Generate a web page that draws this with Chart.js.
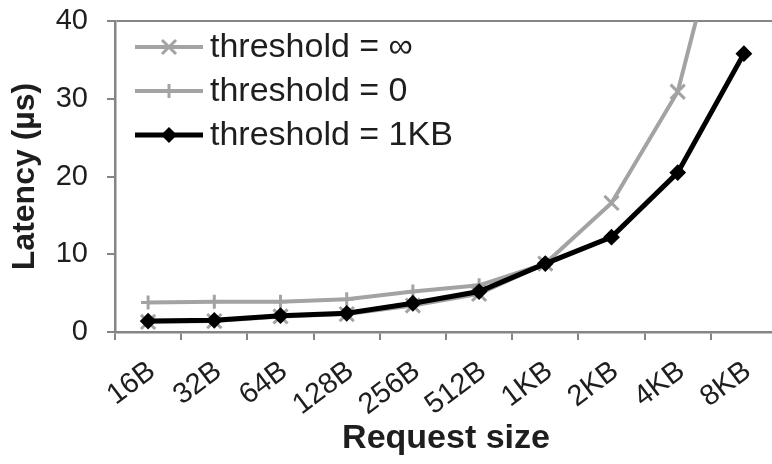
<!DOCTYPE html>
<html>
<head>
<meta charset="utf-8">
<script src="https://cdn.jsdelivr.net/npm/chart.js@4/dist/chart.umd.min.js"></script>
<style>
  html, body { margin: 0; padding: 0; background: #fff; width: 772px; height: 464px; overflow: hidden; }
  #wrap { width: 790px; height: 464px; }
</style>
</head>
<body>
<div id="wrap"><canvas id="latencyChart" width="790" height="464"></canvas></div>
<script>
// latency vs request size – three threshold settings

const requestSizes = ['16B', '32B', '64B', '128B', '256B', '512B', '1KB', '2KB', '4KB', '8KB'];
const latencyInf = [1.3, 1.4, 2.0, 2.3, 3.4, 4.9, 8.8, 16.6, 30.9, 64.0];
const latencyZero = [3.8, 3.9, 3.9, 4.2, 5.2, 6.0, 8.8, 12.2, 20.5, 35.8];
const latency1KB = [1.4, 1.5, 2.1, 2.4, 3.7, 5.2, 8.8, 12.2, 20.5, 35.8];
const yTicks = [0, 10, 20, 30, 40];

const gray = '#a3a3a3';
const axisGray = '#858585';
const textColor = '#1e1e1e';
const fontFamily = "'Liberation Sans', Arial, sans-serif";

// small canvases used as legend samples (line + marker)
const makeSample = (color, width, marker) => {
  const c = document.createElement('canvas');
  c.width = 68;
  c.height = 30;
  const ctx = c.getContext('2d');
  ctx.strokeStyle = color;
  ctx.fillStyle = color;
  ctx.lineWidth = width;
  ctx.beginPath();
  ctx.moveTo(0, 15);
  ctx.lineTo(68, 15);
  ctx.stroke();
  ctx.lineWidth = 3;
  ctx.beginPath();
  if (marker === 'crossRot') {
    ctx.moveTo(27, 8); ctx.lineTo(41, 22);
    ctx.moveTo(41, 8); ctx.lineTo(27, 22);
    ctx.stroke();
  } else if (marker === 'cross') {
    ctx.moveTo(34, 8); ctx.lineTo(34, 22);
    ctx.stroke();
  } else {
    ctx.moveTo(34, 7); ctx.lineTo(42, 15); ctx.lineTo(34, 23); ctx.lineTo(26, 15);
    ctx.closePath();
    ctx.fill();
  }
  return c;
};

const samples = [
  makeSample(gray, 4, 'crossRot'),
  makeSample(gray, 4, 'cross'),
  makeSample('#000', 5, 'rectRot')
];

// legend drawn inside the plot area, top-left
const insideLegend = {
  id: 'insideLegend',
  afterDatasetsDraw(chart) {
    const { ctx, chartArea } = chart;
    ctx.save();
    ctx.font = `34px ${fontFamily}`;
    ctx.fillStyle = textColor;
    ctx.textBaseline = 'middle';
    ctx.textAlign = 'left';
    chart.data.datasets.forEach((ds, i) => {
      const y = chartArea.top + 26 + i * 44;
      ctx.drawImage(samples[i], chartArea.left + 20, y - 15);
      ctx.fillText(ds.label, chartArea.left + 95, y + 1);
    });
    ctx.restore();
  }
};

new Chart(document.getElementById('latencyChart'), {
  type: 'line',
  data: {
    labels: requestSizes,
    datasets: [
      {
        label: 'threshold = ∞',
        data: latencyInf,
        borderColor: gray,
        borderWidth: 4,
        pointStyle: 'crossRot',
        pointRadius: 10,
        pointBorderWidth: 3,
        pointBorderColor: gray,
        pointBackgroundColor: gray,
        tension: 0,
        order: 2
      },
      {
        label: 'threshold = 0',
        data: latencyZero,
        borderColor: gray,
        borderWidth: 4,
        pointStyle: 'cross',
        pointRadius: 7,
        pointBorderWidth: 3,
        pointBorderColor: gray,
        pointBackgroundColor: gray,
        tension: 0,
        order: 1
      },
      {
        label: 'threshold = 1KB',
        data: latency1KB,
        borderColor: '#000',
        borderWidth: 5,
        pointStyle: 'rectRot',
        pointRadius: 7,
        pointBorderWidth: 2,
        pointBorderColor: '#000',
        pointBackgroundColor: '#000',
        tension: 0,
        order: 0
      }
    ]
  },
  plugins: [insideLegend],
  options: {
    responsive: false,
    animation: false,
    devicePixelRatio: 1,
    layout: { padding: { top: 21, right: 3, bottom: 0, left: 0 } },
    plugins: {
      tooltip: { enabled: false },
      legend: { display: false }
    },
    scales: {
      x: {
        offset: true,
        grid: {
          offset: true,
          drawOnChartArea: false,
          color: axisGray,
          lineWidth: 2,
          tickLength: 8
        },
        border: { color: axisGray, width: 2.5 },
        ticks: {
          autoSkip: false,
          minRotation: 37,
          maxRotation: 37,
          padding: 14,
          labelOffset: 4,
          color: textColor,
          font: { family: fontFamily, size: 29 }
        },
        title: {
          display: true,
          text: 'Request size',
          color: textColor,
          font: { family: fontFamily, size: 34, weight: 'bold' },
          padding: { top: 0, bottom: 5 }
        },
        afterFit: (scale) => {
          scale.height = 132;
          scale.paddingLeft = 0;
          scale.paddingRight = 0;
        }
      },
      y: {
        min: 0,
        max: 40,
        afterBuildTicks: (scale) => { scale.ticks = yTicks.map(v => ({ value: v })); },
        grid: {
          color: (ctx) => (ctx.tick && ctx.tick.value === 40 ? axisGray : 'rgba(0,0,0,0)'),
          tickColor: axisGray,
          lineWidth: 2,
          tickLength: 8
        },
        border: { color: axisGray, width: 2.5 },
        ticks: {
          padding: 19,
          color: textColor,
          font: { family: fontFamily, size: 29 }
        },
        title: {
          display: true,
          text: 'Latency (µs)',
          color: textColor,
          font: { family: fontFamily, size: 32, weight: 'bold' },
          padding: { top: 6, bottom: 0 }
        },
        afterFit: (scale) => {
          scale.width = 115;
          scale.paddingTop = 0;
          scale.paddingBottom = 0;
        }
      }
    }
  }
});
</script>
</body>
</html>
